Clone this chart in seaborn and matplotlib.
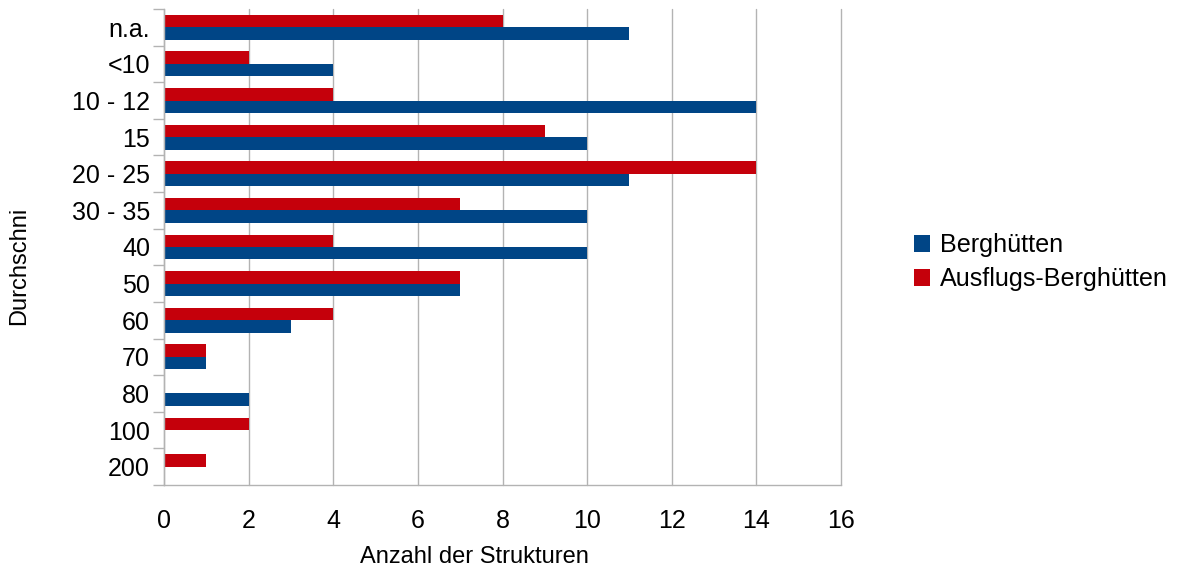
import matplotlib
matplotlib.use("Agg")
import matplotlib.pyplot as plt
from matplotlib.patches import Patch
from matplotlib.ticker import FixedLocator
import seaborn as sns
import pandas as pd

categories = ["n.a.", "<10", "10 - 12", "15", "20 - 25", "30 - 35", "40",
              "50", "60", "70", "80", "100", "200"]
berghuetten = [11, 4, 14, 10, 11, 10, 10, 7, 3, 1, 2, 0, 0]
ausflugs = [8, 2, 4, 9, 14, 7, 4, 7, 4, 1, 0, 2, 1]
series_names = ["Berghütten", "Ausflugs-Berghütten"]
x_ticks = [0, 2, 4, 6, 8, 10, 12, 14, 16]

colors = {"Berghütten": "#004586", "Ausflugs-Berghütten": "#c5000b"}

df = pd.DataFrame({
    "Durchschni": categories * 2,
    "Anzahl": berghuetten + ausflugs,
    "Serie": [series_names[0]] * len(categories) + [series_names[1]] * len(categories),
})

sns.set_theme(style="white")
plt.rcParams["font.family"] = ["Liberation Sans", "DejaVu Sans"]
plt.rcParams["text.color"] = "black"

fig = plt.figure(figsize=(11.81, 5.66), dpi=100)
ax = fig.add_axes([164 / 1181, 1 - 485 / 566, (841 - 164) / 1181, (485 - 9) / 566])

sns.barplot(data=df, x="Anzahl", y="Durchschni", hue="Serie",
            hue_order=["Ausflugs-Berghütten", "Berghütten"],
            order=categories, palette=colors, orient="h",
            width=0.68, gap=0, saturation=1, ax=ax, legend=False,
            errorbar=None, linewidth=0, edgecolor="none")

grid_c = "#b3b3b3"
ax.set_xlim(0, 16)
ax.set_xticks(x_ticks)
ax.set_xticklabels([str(t) for t in x_ticks])
ax.grid(axis="x", color=grid_c, linewidth=1)
for gl in ax.xaxis.get_gridlines():
    gl.set_clip_on(False)
ax.set_axisbelow(True)
for side in ["top", "right"]:
    ax.spines[side].set_visible(False)
for side in ["left", "bottom"]:
    ax.spines[side].set_color(grid_c)
    ax.spines[side].set_linewidth(1)

ax.tick_params(axis="x", which="major", length=8.5, width=1, color=grid_c,
               direction="out", labelsize=18, pad=9, labelcolor="black")
ax.tick_params(axis="y", which="major", length=0, labelsize=18, pad=10,
               labelcolor="black")
ax.yaxis.set_minor_locator(FixedLocator([i - 0.5 for i in range(len(categories) + 1)]))
ax.tick_params(axis="y", which="minor", length=8, width=1, color=grid_c,
               direction="out", left=True)

ax.set_xlabel("Anzahl der Strukturen", fontsize=17, color="black")
ax.set_ylabel("Durchschni", fontsize=17, color="black")
ax.xaxis.set_label_coords(0.458, -0.128)
ax.yaxis.set_label_coords(-0.198, 0.46)

handles = [Patch(facecolor=colors[n], edgecolor="none") for n in series_names]
fig.legend(handles, series_names, loc="center left",
           bbox_to_anchor=(914 / 1181, 1 - 262 / 566), frameon=False,
           fontsize=18.1, handlelength=0.65, handleheight=0.65,
           handletextpad=0.4, labelspacing=0.4, borderaxespad=0, borderpad=0,
           labelcolor="black")

fig.savefig("out.png", dpi=100, facecolor="white")
